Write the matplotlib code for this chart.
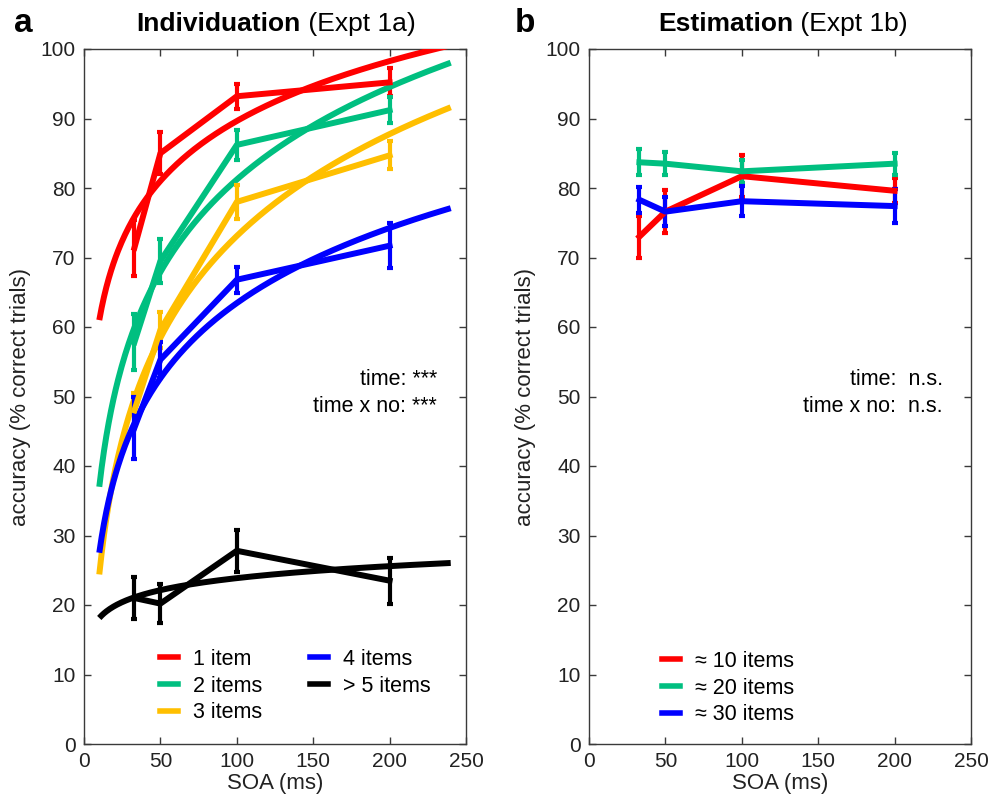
import numpy as np
import matplotlib
matplotlib.use("Agg")
import matplotlib.pyplot as plt
from matplotlib.lines import Line2D

plt.rcParams['font.family'] = ['Liberation Sans', 'DejaVu Sans']

# ---- data -------------------------------------------------------------
soa = [33, 50, 100, 200]

# Experiment 1a: individuation accuracy (mean, sem) per set size
indiv_labels = ['1 item', '2 items', '3 items', '4 items', '> 5 items']
indiv_colors = ['#FF0000', '#00BF80', '#FFBF00', '#0000FF', '#000000']
indiv_mean = [
    [71.4, 85.0, 93.2, 95.2],
    [57.8, 69.5, 86.2, 91.2],
    [48.0, 59.6, 78.0, 84.7],
    [45.5, 55.3, 66.8, 71.7],
    [21.0, 20.2, 27.8, 23.5],
]
indiv_sem = [
    [4.0, 3.0, 1.8, 2.0],
    [4.0, 3.2, 2.2, 1.9],
    [2.5, 2.6, 2.4, 2.0],
    [4.5, 2.6, 1.9, 3.2],
    [3.0, 2.8, 3.0, 3.3],
]
# logarithmic model fits: acc = intercept + slope * ln(SOA)
fit_intercept = [32.35, -7.2, -24.3, -8.4, 12.4]
fit_slope = [12.44, 19.2, 21.15, 15.6, 2.49]
fit_range = (10, 240)

# Experiment 1b: estimation accuracy (mean, sem) per numerosity
estim_labels = ['\u2248 10 items', '\u2248 20 items', '\u2248 30 items']
estim_colors = ['#FF0000', '#00BF80', '#0000FF']
estim_mean = [
    [73.0, 76.6, 81.7, 79.6],
    [83.7, 83.5, 82.4, 83.5],
    [78.3, 76.6, 78.1, 77.4],
]
estim_sem = [
    [3.0, 3.1, 3.0, 1.8],
    [1.9, 1.7, 1.7, 1.6],
    [1.9, 2.1, 2.2, 2.4],
]

# ---- figure -----------------------------------------------------------
W, H = 989, 798
fig = plt.figure(figsize=(W / 100, H / 100), dpi=100)
ax1 = fig.add_axes([84 / W, 1 - 744 / H, 382 / W, 695 / H])
ax2 = fig.add_axes([589 / W, 1 - 744 / H, 382 / W, 695 / H])

LW = 4.3
spine_col = '#3a3a3a'
FS_TICK = 15
FS_LABEL = 16
FS_TEXT = 15.5
FS_TITLE = 19


def style_axes(ax):
    ax.set_xlim(0, 250)
    ax.set_ylim(0, 100)
    ax.set_xticks(range(0, 251, 50))
    ax.set_yticks(range(0, 101, 10))
    ax.tick_params(direction='in', top=True, right=True, length=5,
                   width=1, color=spine_col, labelsize=FS_TICK, pad=6,
                   labelcolor='#222222')
    for s in ax.spines.values():
        s.set_color(spine_col)
        s.set_linewidth(1.0)
    ax.set_xlabel('SOA (ms)', fontsize=FS_LABEL, labelpad=1,
                  color='#222222')
    ax.set_ylabel('accuracy (% correct trials)', fontsize=FS_LABEL,
                  labelpad=7, color='#222222')


def draw_title(ax, bold, rest, x_split):
    t = ax.text(x_split, 1.018, bold, transform=ax.transAxes, ha='right',
                va='bottom', fontsize=FS_TITLE, fontweight='bold')
    ax.annotate(rest, xy=(1, 0), xycoords=t, ha='left', va='bottom',
                fontsize=FS_TITLE)


legend_style = dict(frameon=False, fontsize=FS_TEXT, handlelength=0.85,
                    handletextpad=0.7, labelspacing=0.27, borderpad=0,
                    borderaxespad=0, loc='upper left')

# panel a
xs = np.linspace(fit_range[0], fit_range[1], 300)
for i in range(len(indiv_labels)):
    c = indiv_colors[i]
    ax1.errorbar(soa, indiv_mean[i], yerr=indiv_sem[i], color=c, lw=LW,
                 elinewidth=3, capsize=2.5, capthick=3, zorder=3)
    ax1.plot(xs, fit_intercept[i] + fit_slope[i] * np.log(xs), color=c,
             lw=LW, solid_capstyle='butt', zorder=3)
style_axes(ax1)
draw_title(ax1, 'Individuation', ' (Expt 1a)', 0.568)
ax1.text(0.924, 0.524, 'time: ***', transform=ax1.transAxes, ha='right',
         va='center', fontsize=FS_TEXT)
ax1.text(0.924, 0.485, 'time x no: ***', transform=ax1.transAxes,
         ha='right', va='center', fontsize=FS_TEXT)
handles1 = [Line2D([], [], color=c, lw=4) for c in indiv_colors]
ax1.legend(handles1, indiv_labels, ncol=2, bbox_to_anchor=(0.199, 0.137),
           columnspacing=2.2, **legend_style)

# panel b
for i in range(len(estim_labels)):
    c = estim_colors[i]
    ax2.errorbar(soa, estim_mean[i], yerr=estim_sem[i], color=c, lw=LW,
                 elinewidth=3, capsize=2.5, capthick=3, zorder=3)
style_axes(ax2)
draw_title(ax2, 'Estimation', ' (Expt 1b)', 0.534)
ax2.text(0.927, 0.524, 'time:  n.s.', transform=ax2.transAxes, ha='right',
         va='center', fontsize=FS_TEXT)
ax2.text(0.927, 0.485, 'time x no:  n.s.', transform=ax2.transAxes,
         ha='right', va='center', fontsize=FS_TEXT)
handles2 = [Line2D([], [], color=c, lw=4) for c in estim_colors]
ax2.legend(handles2, estim_labels, bbox_to_anchor=(0.191, 0.134),
           **legend_style)

fig.text(14 / W, 1 - 23 / H, 'a', fontsize=24, fontweight='bold',
         ha='left', va='center')
fig.text(515 / W, 1 - 23 / H, 'b', fontsize=24, fontweight='bold',
         ha='left', va='center')

fig.savefig('out.png', dpi=100)
